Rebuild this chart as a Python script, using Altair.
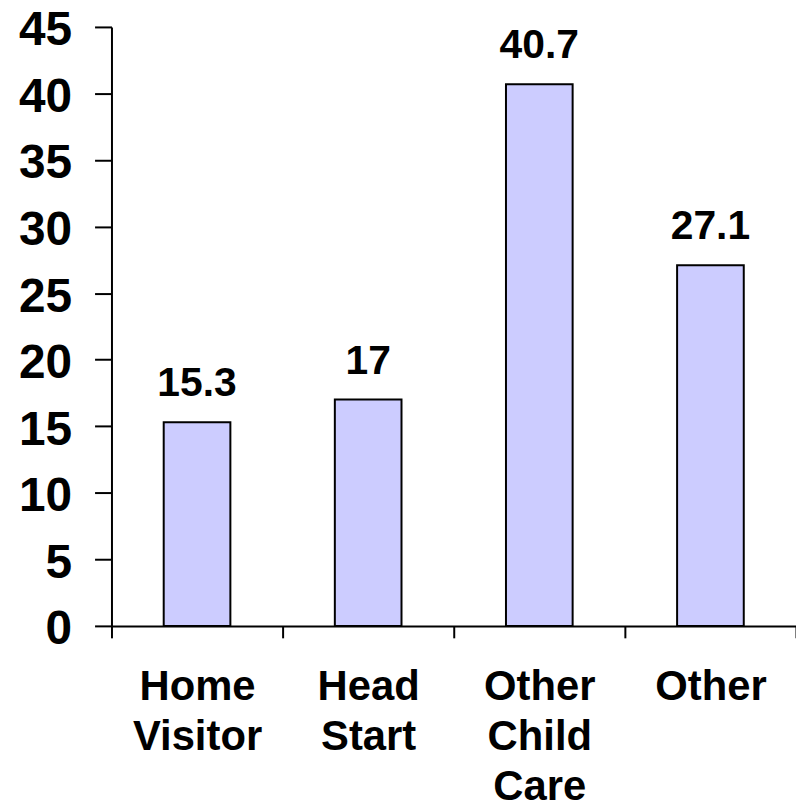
import altair as alt
import pandas as pd

categories = ["Home Visitor", "Head Start", "Other Child Care", "Other"]
values = [15.3, 17, 40.7, 27.1]
value_labels = ["15.3", "17", "40.7", "27.1"]
y_ticks = [0, 5, 10, 15, 20, 25, 30, 35, 40, 45]

df = pd.DataFrame({"category": categories, "value": values, "label": value_labels})

x_enc = alt.X(
    "category:N",
    sort=categories,
    title=None,
    scale=alt.Scale(paddingInner=0, paddingOuter=0),
    axis=alt.Axis(
        labelAngle=0,
        tickBand="extent",
        domainColor="black",
        domainWidth=2,
        tickColor="black",
        tickWidth=2,
        tickSize=12,
        labelFont="Liberation Sans, Arial",
        labelFontWeight="bold",
        labelFontSize=42,
        labelColor="black",
        labelExpr="split(datum.label, ' ')",
        labelLineHeight=50.5,
        labelPadding=29,
        labelBaseline="top",
    ),
)

y_enc = alt.Y(
    "value:Q",
    title=None,
    scale=alt.Scale(domain=[0, 45], nice=False, zero=True),
    axis=alt.Axis(
        values=y_ticks,
        grid=False,
        domainColor="black",
        domainWidth=2,
        tickColor="black",
        tickWidth=2,
        tickSize=17,
        labelFont="Liberation Sans, Arial",
        labelFontWeight="bold",
        labelFontSize=48,
        labelColor="black",
        labelPadding=23,
        labelBaseline="middle",
        labelOffset=4,
    ),
)

bars = alt.Chart(df).mark_bar(
    size=67, color="#CCCCFF", stroke="black", strokeWidth=2
).encode(x=x_enc, y=y_enc)

text = alt.Chart(df).mark_text(
    font="Liberation Sans, Arial",
    fontWeight="bold",
    fontSize=41,
    color="black",
    baseline="alphabetic",
    dy=-26,
).encode(x=alt.X("category:N", sort=categories), y=alt.Y("value:Q"), text="label:N")

chart = (
    alt.layer(bars, text)
    .properties(
        width=688,
        height=602,
        autosize=alt.AutoSizeParams(type="none"),
        padding={"left": 104, "top": 17, "right": 0, "bottom": 179},
    )
    .configure_view(stroke=None)
)

chart.save("out.html", embed_options={"renderer": "svg", "actions": False})
